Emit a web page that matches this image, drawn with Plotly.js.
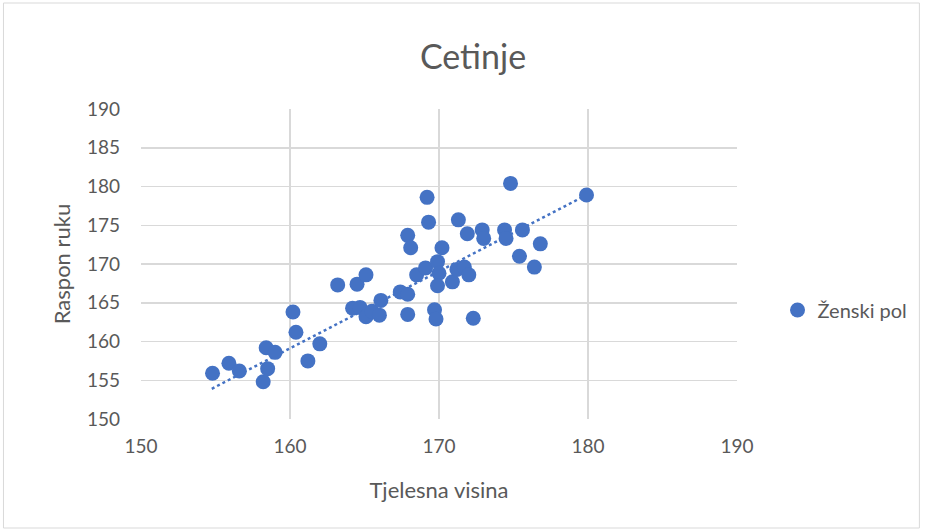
<!DOCTYPE html>
<html>
<head>
<meta charset="utf-8">
<script src="https://cdn.plot.ly/plotly-3.0.1.min.js"></script>
<style>html,body{margin:0;padding:0;background:#fff;}#chart{width:925px;height:531px;}</style>
</head>
<body>
<div id="chart"></div>
<script>
const seriesName = "Ženski pol";
const chartTitle = "Cetinje";
const xTitle = "Tjelesna visina";
const yTitle = "Raspon ruku";
const xTicks = [150, 160, 170, 180, 190];
const yTicks = [150, 155, 160, 165, 170, 175, 180, 185, 190];

const heights = [154.8, 155.9, 156.6, 158.2, 158.5, 158.4, 159.0, 160.2, 160.4, 161.2, 162.0,
  163.2, 164.5, 165.1, 164.2, 164.7, 165.1, 165.5, 166.0, 166.1,
  167.4, 167.9, 167.9, 167.9, 168.1, 168.5, 169.1, 169.2, 169.3,
  169.7, 169.8, 169.9, 170.0, 169.9, 170.2, 170.9, 171.2, 171.7, 172.0, 171.3, 171.9, 172.3,
  172.9, 173.0, 174.4, 174.5, 174.8, 175.4, 175.6, 176.4, 176.8, 179.9];
const armSpans = [155.9, 157.2, 156.2, 154.8, 156.5, 159.2, 158.6, 163.8, 161.2, 157.5, 159.7,
  167.3, 167.4, 168.6, 164.3, 164.4, 163.2, 163.9, 163.4, 165.3,
  166.4, 166.1, 163.5, 173.7, 172.1, 168.6, 169.5, 178.6, 175.4,
  164.1, 162.9, 170.3, 168.8, 167.2, 172.1, 167.7, 169.3, 169.6, 168.6, 175.7, 173.9, 163.0,
  174.4, 173.3, 174.4, 173.3, 180.4, 171.0, 174.4, 169.6, 172.6, 178.9];

// linear trendline as drawn in the reference (endpoints)
const trendX = [154.75, 179.9];
const trendY = [153.9, 178.9];

const blue = "#4472C4";
const txt = "#595959";
const grid = "#d9d9d9";
const font = "Lato, 'Open Sans', sans-serif";

const data = [
  {x: trendX, y: trendY, type: "scatter", mode: "lines", showlegend: false, hoverinfo: "skip",
   line: {color: blue, width: 2.5, dash: "dot"}},
  {x: heights, y: armSpans, type: "scatter", mode: "markers", name: seriesName,
   marker: {color: blue, size: 15}}
];

const layout = {
  width: 925, height: 531,
  margin: {l: 141, r: 186, t: 109, b: 112},
  paper_bgcolor: "#fff", plot_bgcolor: "#fff",
  font: {family: font, color: txt, size: 19},
  title: {text: chartTitle, font: {family: font, size: 34, color: txt}, x: 473/925, xanchor: "center",
          xref: "container", y: 1 - 57/531, yanchor: "middle"},
  xaxis: {range: [150, 190], tickvals: xTicks, ticktext: xTicks.map(String), showgrid: true, gridcolor: grid,
          gridwidth: 1.5, zeroline: false, showline: false, ticks: "", ticklen: 0,
          tickfont: {size: 19, color: txt}, ticklabelstandoff: 14,
          title: {text: xTitle, font: {size: 22, color: txt}, standoff: 26}},
  yaxis: {range: [150, 190], tickvals: yTicks, ticktext: yTicks.map(String), showgrid: true, gridcolor: grid,
          gridwidth: 1.5, zeroline: false, showline: false, ticks: "", ticklen: 0,
          tickfont: {size: 19, color: txt}, ticklabelstandoff: 20,
          title: {text: yTitle, font: {size: 22, color: txt}, standoff: 10}},
  legend: {x: 1.068, xanchor: "left", y: (419-310)/310, yanchor: "middle", font: {size: 20, color: txt},
           bgcolor: "rgba(0,0,0,0)", itemwidth: 30},
  shapes: [{type: "rect", xref: "paper", yref: "paper",
            x0: (3-141)/598, x1: (922-141)/598, y0: (419-528)/310, y1: (419-3)/310,
            line: {color: grid, width: 1}, layer: "below"}],
  showlegend: true
};

Plotly.newPlot("chart", data, layout, {displayModeBar: false, staticPlot: true});
</script>
</body>
</html>
